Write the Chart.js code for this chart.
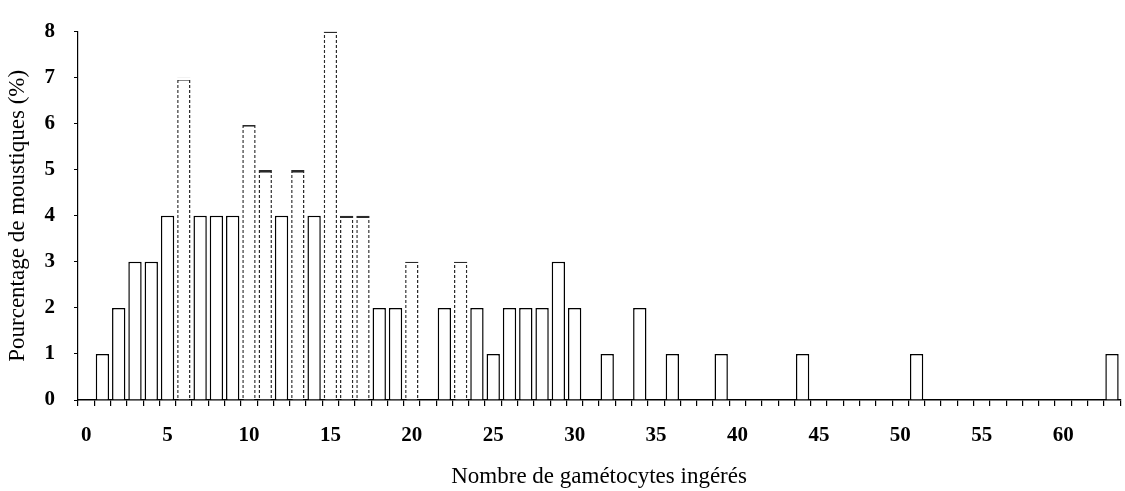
<!DOCTYPE html>
<html>
<head>
<meta charset="utf-8">
<script src="https://cdn.jsdelivr.net/npm/chart.js@4.4.1/dist/chart.umd.min.js"></script>
<style>
  html, body { margin: 0; padding: 0; background: #fff; overflow: hidden; }
  #wrap { width: 1129px; height: 491px; }
</style>
</head>
<body>
<div id="wrap"><canvas id="chart" width="1129" height="491"></canvas></div>
<script>
// Number of gametocytes ingested (one category per count)
const gametocyteCounts = [
  '0','1','2','3','4','5','6','7','8','9',
  '10','11','12','13','14','15','16','17','18','19',
  '20','21','22','23','24','25','26','27','28','29',
  '30','31','32','33','34','35','36','37','38','39',
  '40','41','42','43','44','45','46','47','48','49',
  '50','51','52','53','54','55','56','57','58','59',
  '60','61','62','63'
];

// Percentage of mosquitoes for each count
const mosquitoPercent = [
  0, 1, 2, 3, 3, 4, 7, 4, 4, 4,
  6, 5, 4, 5, 4, 8, 4, 4, 2, 2,
  3, 0, 2, 3, 2, 1, 2, 2, 2, 3,
  2, 0, 1, 0, 2, 0, 1, 0, 0, 1,
  0, 0, 0, 0, 1, 0, 0, 0, 0, 0,
  0, 1, 0, 0, 0, 0, 0, 0, 0, 0,
  0, 0, 0, 1
];

// Labels printed under the x axis
const xTickLabels = ['0','5','10','15','20','25','30','35','40','45','50','55','60'];

// Counts whose bar outline is printed as a broken line
const brokenOutline = ['6','10','11','13','15','16','17','20','23'];

const SERIF = '"Liberation Serif", "DejaVu Serif", serif';

// Horizontal dash pattern (3 px ink, 2 px gap): gives the bar sides a broken stroke,
// while a 3 px top edge always keeps at least one inked row
function dashPattern(ctx) {
  const c = document.createElement('canvas');
  c.width = 1; c.height = 5;
  const p = c.getContext('2d');
  p.fillStyle = '#2a2a2a';
  p.fillRect(0, 0, 1, 3);
  return ctx.createPattern(c, 'repeat');
}

const canvas = document.getElementById('chart');
const ctx = canvas.getContext('2d');
const dashed = dashPattern(ctx);

new Chart(ctx, {
  type: 'bar',
  data: {
    labels: gametocyteCounts,
    datasets: [{
      data: mosquitoPercent,
      backgroundColor: '#ffffff',
      borderColor: (c) => brokenOutline.includes(gametocyteCounts[c.dataIndex]) ? dashed : '#000000',
      borderWidth: (c) => brokenOutline.includes(gametocyteCounts[c.dataIndex])
        ? { top: 3, left: 1.5, right: 1.5, bottom: 0 }
        : { top: 1.5, left: 1.5, right: 1.5, bottom: 0 },
      borderSkipped: 'start',
      barPercentage: 0.82,
      categoryPercentage: 1.0
    }]
  },
  options: {
    responsive: false,
    animation: false,
    devicePixelRatio: 1,
    layout: { padding: { top: 24, left: 0, right: 0, bottom: 0 } },
    plugins: { legend: { display: false }, tooltip: { enabled: false } },
    scales: {
      x: {
        type: 'category',
        offset: true,
        z: 1,
        grid: {
          display: true, drawOnChartArea: false, drawTicks: true,
          tickLength: 6, color: '#000', lineWidth: 1.2, offset: true
        },
        border: { display: true, color: '#000', width: 1.5 },
        ticks: {
          autoSkip: false, maxRotation: 0, minRotation: 0, padding: 17, color: '#000',
          font: { family: SERIF, size: 21, weight: 'bold' },
          callback: function (v) {
            const l = this.getLabelForValue(v);
            return xTickLabels.includes(l) ? l : '';
          }
        },
        title: {
          display: true, text: 'Nombre de gamétocytes ingérés', color: '#000',
          font: { family: SERIF, size: 23 }, padding: { top: 0, bottom: 0 }
        },
        afterFit: (s) => { s.height = 91; }
      },
      y: {
        min: 0, max: 8,
        z: 1,
        grid: {
          display: true, drawOnChartArea: false, drawTicks: true,
          tickLength: 4, color: '#000', lineWidth: 1
        },
        border: { display: true, color: '#000', width: 1.2 },
        ticks: {
          stepSize: 1, padding: 19, color: '#000',
          font: { family: SERIF, size: 21, weight: 'bold' }
        },
        title: {
          display: true, text: 'Pourcentage de moustiques (%)', color: '#000',
          font: { family: SERIF, size: 23 }, padding: { top: 4, bottom: 0 }
        },
        afterFit: (s) => { s.width = 78; }
      }
    }
  }
});
</script>
</body>
</html>
